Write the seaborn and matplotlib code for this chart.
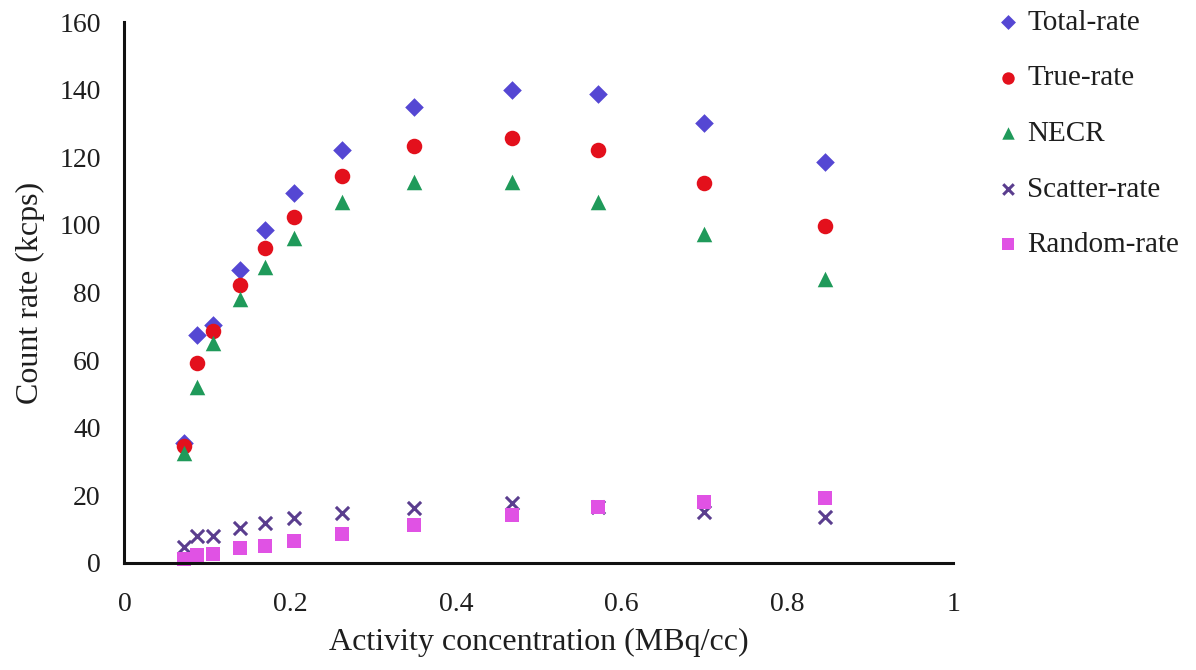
import matplotlib
matplotlib.use("Agg")
import matplotlib.pyplot as plt
import numpy as np
import pandas as pd
import seaborn as sns

# activity concentration (MBq/cc)
activity = [0.072, 0.088, 0.107, 0.140, 0.170, 0.205, 0.263, 0.350, 0.468, 0.572, 0.699, 0.845]

# count rates (kcps)
total_rate = [35.5, 67.5, 70.5, 86.7, 98.5, 109.4, 122.2, 135.0, 140.0, 138.8, 130.0, 118.7]
true_rate = [34.5, 59.0, 68.5, 82.2, 93.2, 102.3, 114.5, 123.4, 125.6, 122.2, 112.5, 99.7]
necr = [32.5, 52.0, 65.0, 78.2, 87.5, 96.1, 106.8, 112.7, 112.8, 106.9, 97.3, 83.9]
scatter_rate = [4.7, 8.0, 8.0, 10.4, 11.8, 13.3, 14.8, 16.3, 17.7, 16.5, 15.1, 13.6]
random_rate = [1.0, 2.4, 2.5, 4.4, 5.0, 6.5, 8.5, 11.2, 14.2, 16.6, 18.0, 19.2]

series_names = ["Total-rate", "True-rate", "NECR", "Scatter-rate", "Random-rate"]
series_values = [total_rate, true_rate, necr, scatter_rate, random_rate]

colors = {"Total-rate": "#5547d3", "True-rate": "#e3101c", "NECR": "#1f9a5a",
          "Scatter-rate": "#5a3d8e", "Random-rate": "#e052e4"}
markers = {"Total-rate": "D", "True-rate": "o", "NECR": "^",
           "Scatter-rate": "x", "Random-rate": "s"}
sizes = {"Total-rate": 90, "True-rate": 125, "NECR": 125,
         "Scatter-rate": 90, "Random-rate": 115}

sns.set_style("white")
plt.rcParams['font.family'] = ['Liberation Serif', 'DejaVu Serif']

fig = plt.figure(figsize=(11.96, 6.70), dpi=100)
ax = fig.add_axes([0.104, 0.16, 0.693, 0.807])

for name, vals in zip(series_names, series_values):
    df = pd.DataFrame({"x": activity, "y": vals})
    if markers[name] == "x":
        sns.scatterplot(data=df, x="x", y="y", ax=ax, marker="x", color=colors[name],
                        s=sizes[name], linewidth=2.2, label=name, clip_on=False, legend=False)
    else:
        sns.scatterplot(data=df, x="x", y="y", ax=ax, marker=markers[name], color=colors[name],
                        s=sizes[name], linewidth=0, label=name, clip_on=False, legend=False)

ax.set_xlim(0, 1)
ax.set_ylim(0, 160)
ax.set_xticks([0, 0.2, 0.4, 0.6, 0.8, 1])
ax.set_xticklabels(["0", "0.2", "0.4", "0.6", "0.8", "1"])
ax.set_yticks(np.arange(0, 161, 20))
ax.tick_params(length=0, labelsize=20, colors="#1e1e1e")
ax.tick_params(axis="x", pad=21)
ax.tick_params(axis="y", pad=17)
ax.set_xlabel("Activity concentration (MBq/cc)", fontsize=23, color="#1e1e1e", labelpad=8)
ax.set_ylabel("Count rate (kcps)", fontsize=23, color="#1e1e1e", labelpad=10)

for side in ["top", "right"]:
    ax.spines[side].set_visible(False)
for side in ["left", "bottom"]:
    ax.spines[side].set_color("#111111")
    ax.spines[side].set_linewidth(2.2)

handles, labels = ax.get_legend_handles_labels()
leg = fig.legend(handles, labels, loc="upper left", bbox_to_anchor=(0.833, 0.986),
                 frameon=False, fontsize=21, labelspacing=1.0, handlelength=0.8,
                 handletextpad=0.26, markerscale=0.8, borderpad=0, borderaxespad=0)
for t in leg.get_texts():
    t.set_color("#1e1e1e")

fig.savefig("out.png", dpi=100)
